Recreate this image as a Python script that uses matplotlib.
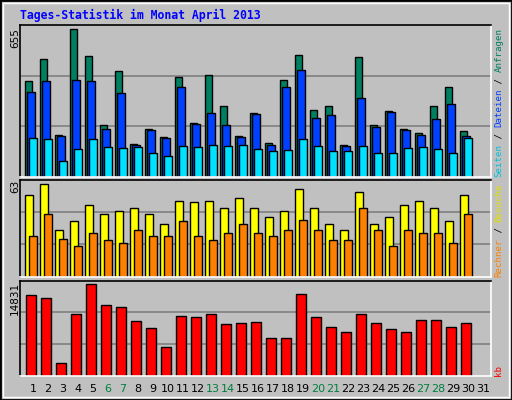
import matplotlib
matplotlib.use("Agg")
import matplotlib.pyplot as plt
from matplotlib.patches import Rectangle

days = list(range(1, 32))
weekend = [6, 7, 13, 14, 20, 21, 27, 28]
anfragen = [424,522,184,655,535,228,468,144,210,175,442,237,451,313,179,282,148,428,539,295,313,139,531,228,290,210,193,313,397,202]
dateien = [375,424,179,428,424,210,371,139,206,170,397,233,282,228,175,277,139,397,473,259,273,135,348,219,286,206,184,255,322,179]
seiten = [170,166,68,122,166,130,126,130,104,90,135,130,139,135,139,122,113,117,166,135,113,113,135,104,104,126,130,122,104,170]
besuche = [56,63,32,38,49,43,45,47,43,36,52,51,52,47,54,47,41,45,60,47,36,32,58,36,41,49,52,47,38,56]
rechner = [28,43,26,21,30,25,23,32,28,28,38,28,25,30,36,30,28,32,39,32,25,25,47,32,21,32,30,30,23,43]
kb = [13045,12558,2003,9960,14831,11421,11097,8823,7686,4601,9635,9473,9960,8336,8498,8661,6062,6062,13207,9473,7849,7037,9960,8498,7524,7037,8985,8985,7849,8498]

W, H = 512, 400
fig = plt.figure(figsize=(W/100, H/100), dpi=100, facecolor='#C0C0C0')
fig.patches.append(Rectangle((0, 0), 1, 1, transform=fig.transFigure, fill=False, edgecolor='black', lw=2))
fig.patches.append(Rectangle((3/W, 3/H), (W-6)/W, (H-6)/H, transform=fig.transFigure, fill=False, edgecolor='white', lw=1))

def mkax(top, bottom, ymax):
    ax = fig.add_axes([20/W, 1-bottom/H, 471/W, (bottom-top)/H])
    ax.set_facecolor('#C0C0C0')
    ax.set_xlim(20, 491)
    ax.set_ylim(0, ymax)
    for s in ax.spines.values():
        s.set_color('white'); s.set_linewidth(1.2)
    ax.spines['top'].set_color('black'); ax.spines['left'].set_color('black')
    ax.set_xticks([]); ax.set_yticks([])
    for f in (1/3, 2/3):
        ax.axhline(ymax*f, color='#808080', lw=1.2, zorder=0)
    return ax

n = len(anfragen)
base = [25.3 + i*15 for i in range(n)]
ec = dict(edgecolor='black', linewidth=1, align='edge')

ax1 = mkax(25, 176.7, 655*151.7/147.3)
ax1.bar(base, anfragen, width=7, color='#008060', **ec)
ax1.bar([b+2 for b in base], dateien, width=7.3, color='#0040FF', **ec)
ax1.bar([b+4 for b in base], seiten, width=7.3, color='#00E0FF', **ec)

ax2 = mkax(180, 276.7, 63*96.7/92.3)
ax2.bar(base, besuche, width=8, color='#FFFF00', **ec)
ax2.bar([b+4 for b in base], rechner, width=7.3, color='#FF8000', **ec)

ax3 = mkax(280.7, 375.7, 14831*95/91.3)
ax3.bar([b+1 for b in base], kb, width=10, color='#FF0000', **ec)

mono = 'DejaVu Sans Mono'
fig.text(20/W, 1-15/H, 'Tages-Statistik im Monat April 2013', color='#0000FF', fontsize=8.3,
         fontweight='bold', family=mono, va='center', ha='left')
for lbl, y in (('655', 28), ('63', 180), ('14831', 282)):
    fig.text(15/W, 1-y/H, lbl, rotation=90, fontsize=7.5, family='DejaVu Sans', ha='center', va='top', color='black')

for d in days:
    fig.text((33 + (d-1)*15)/W, 1-389/H, str(d), fontsize=8, family='DejaVu Sans', ha='center', va='center',
             color='#008040' if d in weekend else 'black')

FS = 6.6
STEP = FS * 100 / 72 * 0.602
def rlabel(parts, y0, ymin):
    y = y0
    for txt, col in parts:
        if y - len(txt.rstrip()) * STEP < ymin:
            txt = txt[:max(0, int((y - ymin) / STEP))]
        if txt.strip():
            fig.text(499/W, 1-y/H, txt, rotation=90, fontsize=FS, family=mono, color=col,
                     ha='center', va='bottom', rotation_mode='anchor' if False else 'default')
        y -= len(txt) * STEP
rlabel([('Seiten', '#00C0E0'), (' / ', 'black'), ('Dateien', '#0040FF'), (' / ', 'black'), ('Anfragen', '#008060')], 177, 24)
rlabel([('Rechner', '#FF8000'), (' / ', 'black'), ('Besuche', '#E0E000'), (' / ', 'black'), ('Seiten', '#00C0E0')], 277, 180)
rlabel([('kb', '#FF0000')], 376, 280)

fig.savefig('out.png', dpi=100, facecolor=fig.get_facecolor())
